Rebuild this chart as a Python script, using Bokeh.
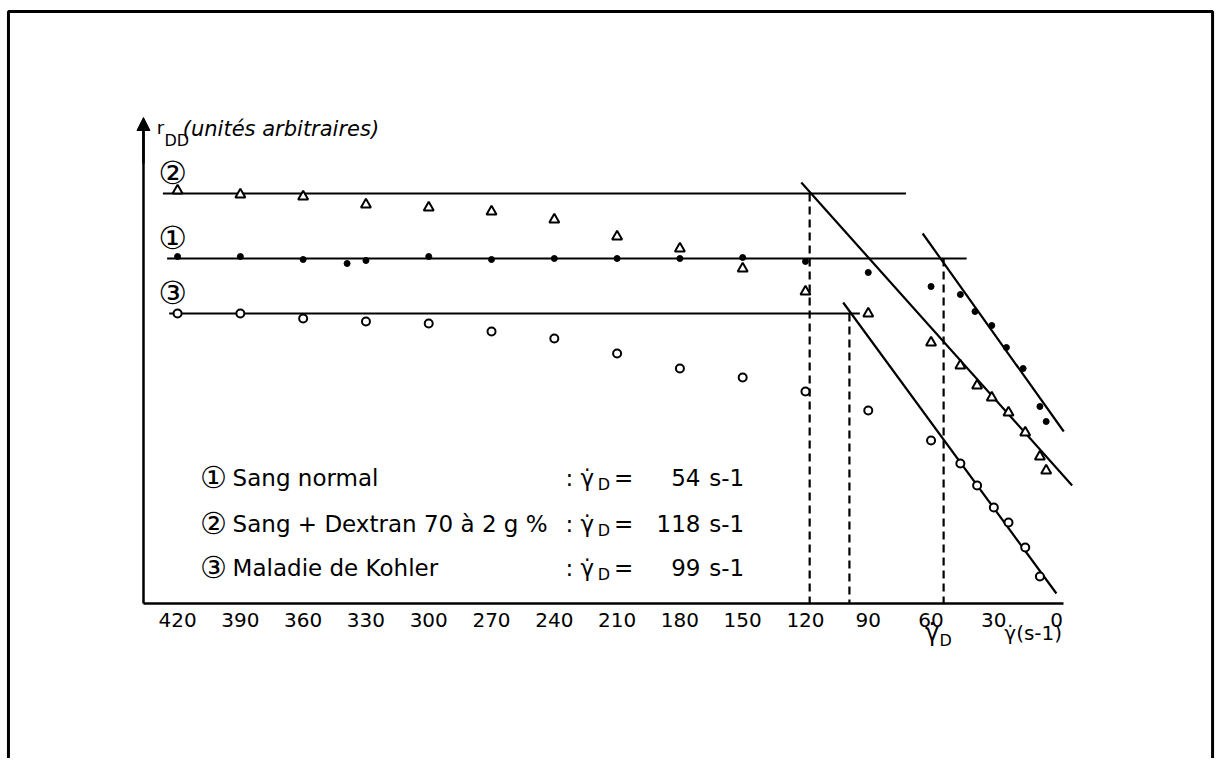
from bokeh.plotting import figure
from bokeh.models import Range1d, LinearAxis, FixedTicker, Arrow, NormalHead
from bokeh.core.properties import value
from bokeh.embed import file_html
from bokeh.resources import INLINE

# ---------------- data ----------------
x_ticks = [420, 390, 360, 330, 300, 270, 240, 210, 180, 150, 120, 90, 60, 30, 0]

# (1) Sang normal : filled dots
shear_1 = [420, 390, 360, 339, 330, 300, 270, 240, 210, 180, 150, 120, 90, 60,
           46, 39, 31, 24, 16, 8, 5]
rdd_1 = [3.47, 3.47, 3.44, 3.40, 3.43, 3.47, 3.44, 3.45, 3.45, 3.45, 3.46, 3.42,
         3.31, 3.17, 3.09, 2.92, 2.78, 2.56, 2.35, 1.97, 1.82]

# (2) Sang + Dextran 70 : triangles
shear_2 = [420, 390, 360, 330, 300, 270, 240, 210, 180, 150, 120, 90, 60,
           46, 38, 31, 23, 15, 8, 5]
rdd_2 = [4.13, 4.09, 4.07, 3.99, 3.96, 3.92, 3.84, 3.67, 3.55, 3.35, 3.12, 2.90,
         2.61, 2.38, 2.18, 2.06, 1.91, 1.71, 1.47, 1.33]

# (3) Maladie de Kohler : open circles
shear_3 = [420, 390, 360, 330, 300, 270, 240, 210, 180, 150, 120, 90, 60,
           46, 38, 30, 23, 15, 8]
rdd_3 = [2.90, 2.90, 2.85, 2.82, 2.80, 2.72, 2.65, 2.50, 2.35, 2.26, 2.12, 1.93,
         1.63, 1.40, 1.18, 0.96, 0.81, 0.56, 0.27]

# plateau fits, order (1), (2), (3)
plateau_level = [3.45, 4.10, 2.90]
plateau_from = [425, 427, 424]
plateau_to = [43, 72, 94]

# descending fits, order (1), (2), (3)
fall_x0 = [64, 122, 102]
fall_r0 = [3.70, 4.21, 3.01]
fall_x1 = [-3.4, -7.4, 0.1]
fall_r1 = [1.72, 1.18, 0.10]

# critical shear rates (s-1), order (1), (2), (3)
gamma_d = [54, 118, 99]

legend_num = ["\u2460", "\u2461", "\u2462"]
legend_desc = ["Sang normal", "Sang + Dextran 70  \u00e0  2 g %", "Maladie de Kohler"]
legend_val = [str(g) for g in gamma_d]

FONT = "DejaVu Sans"

# ---------------- figure ----------------
X_LEFT, X_RIGHT = 504.6, -75.9
Y_BOTTOM, Y_TOP = -1.55, 6.03
p = figure(width=1215, height=758, output_backend="svg", toolbar_location=None,
           x_range=Range1d(X_LEFT, X_RIGHT), y_range=Range1d(Y_BOTTOM, Y_TOP),
           x_axis_location=None, y_axis_location=None, min_border=0,
           background_fill_color="white", border_fill_color="white")
p.grid.visible = False
p.outline_line_color = None

xaxis = LinearAxis(fixed_location=0, bounds=(-3.3, 436.3),
                   ticker=FixedTicker(ticks=x_ticks),
                   major_tick_line_color=None, minor_tick_line_color=None,
                   axis_line_width=2.5, axis_line_color="black",
                   major_label_text_font=FONT, major_label_text_font_size="20px",
                   major_label_text_color="black", major_label_standoff=3)
p.add_layout(xaxis, "below")

yaxis = LinearAxis(fixed_location=436.3, bounds=(0, 4.8),
                   ticker=FixedTicker(ticks=[]),
                   major_tick_line_color=None, minor_tick_line_color=None,
                   axis_line_width=2.5, axis_line_color="black",
                   major_label_text_font_size="0px")
p.add_layout(yaxis, "left")
p.add_layout(Arrow(end=NormalHead(size=13, fill_color="black", line_color="black"),
                   x_start=436.3, y_start=4.4, x_end=436.3, y_end=4.86,
                   line_width=2.5, line_color="black"))

# page frame: left, top and right sides (bottom cut off as in the scan)
fl, fr, ft = X_LEFT - 3.8, X_RIGHT + 1.4, Y_TOP - 0.11
p.line(x=[fl, fl, fr, fr], y=[Y_BOTTOM - 1, ft, ft, Y_BOTTOM - 1],
       line_color="black", line_width=3)

# fitted lines
p.segment(x0=plateau_from, y0=plateau_level, x1=plateau_to, y1=plateau_level,
          line_color="black", line_width=2.2)
p.segment(x0=fall_x0, y0=fall_r0, x1=fall_x1, y1=fall_r1,
          line_color="black", line_width=2.2)
p.segment(x0=gamma_d, y0=plateau_level, x1=gamma_d, y1=[0, 0, 0],
          line_color="black", line_width=2.2, line_dash="8 5")

# measured points
p.scatter(shear_1, rdd_1, marker="circle", size=6, fill_color="black",
          line_color="black")
p.scatter(shear_2, rdd_2, marker="triangle", size=10, fill_color="white",
          line_color="black", line_width=2)
p.scatter(shear_3, rdd_3, marker="circle", size=8, fill_color="white",
          line_color="black", line_width=2)

# curve numbers
p.text(x=[422.4] * 3, y=[3.66, 4.31, 3.11], text=legend_num,
       text_font=value(FONT), text_font_size=value("32px"),
       text_align="center", text_baseline="middle", text_color="black")

# axis title
p.text(x=[430.0], y=[4.76], text=["r"], text_font=value(FONT),
       text_font_size=value("18px"), text_align="left", text_baseline="middle")
p.text(x=[426.3], y=[4.63], text=["DD"], text_font=value(FONT),
       text_font_size=value("16px"), text_align="left", text_baseline="middle")
p.text(x=[417.5], y=[4.75], text=["(unit\u00e9s  arbitraires)"], text_font=value(FONT),
       text_font_size=value("21px"), text_font_style="italic",
       text_align="left", text_baseline="middle")

# x axis titles
p.text(x=[59.5], y=[-0.29], text=["\u03b3\u0307"], text_font=value(FONT),
       text_font_size=value("24px"), text_align="center", text_baseline="middle")
p.text(x=[53.0], y=[-0.37], text=["D"], text_font=value(FONT),
       text_font_size=value("16px"), text_align="center", text_baseline="middle")
p.text(x=[25.0], y=[-0.29], text=["\u03b3\u0307(s-1)"], text_font=value(FONT),
       text_font_size=value("20px"), text_align="left", text_baseline="middle")

# legend block
rows = [1.26, 0.80, 0.36]
p.text(x=[402.8] * 3, y=rows, text=legend_num, text_font=value(FONT),
       text_font_size=value("30px"), text_align="center", text_baseline="middle")
p.text(x=[393.7] * 3, y=rows, text=legend_desc, text_font=value(FONT),
       text_font_size=value("23px"), text_align="left", text_baseline="middle")
p.text(x=[234.7] * 3, y=rows, text=[":  \u03b3\u0307"] * 3, text_font=value(FONT),
       text_font_size=value("23px"), text_align="left", text_baseline="middle")
p.text(x=[219.3] * 3, y=[r - 0.07 for r in rows], text=["D"] * 3, text_font=value(FONT),
       text_font_size=value("16px"), text_align="left", text_baseline="middle")
p.text(x=[211.5] * 3, y=rows, text=["="] * 3, text_font=value(FONT),
       text_font_size=value("23px"), text_align="left", text_baseline="middle")
p.text(x=[170.2] * 3, y=rows, text=legend_val, text_font=value(FONT),
       text_font_size=value("23px"), text_align="right", text_baseline="middle")
p.text(x=[166.0] * 3, y=rows, text=["s-1"] * 3, text_font=value(FONT),
       text_font_size=value("23px"), text_align="left", text_baseline="middle")

open("out.html", "w").write(file_html(p, INLINE))
